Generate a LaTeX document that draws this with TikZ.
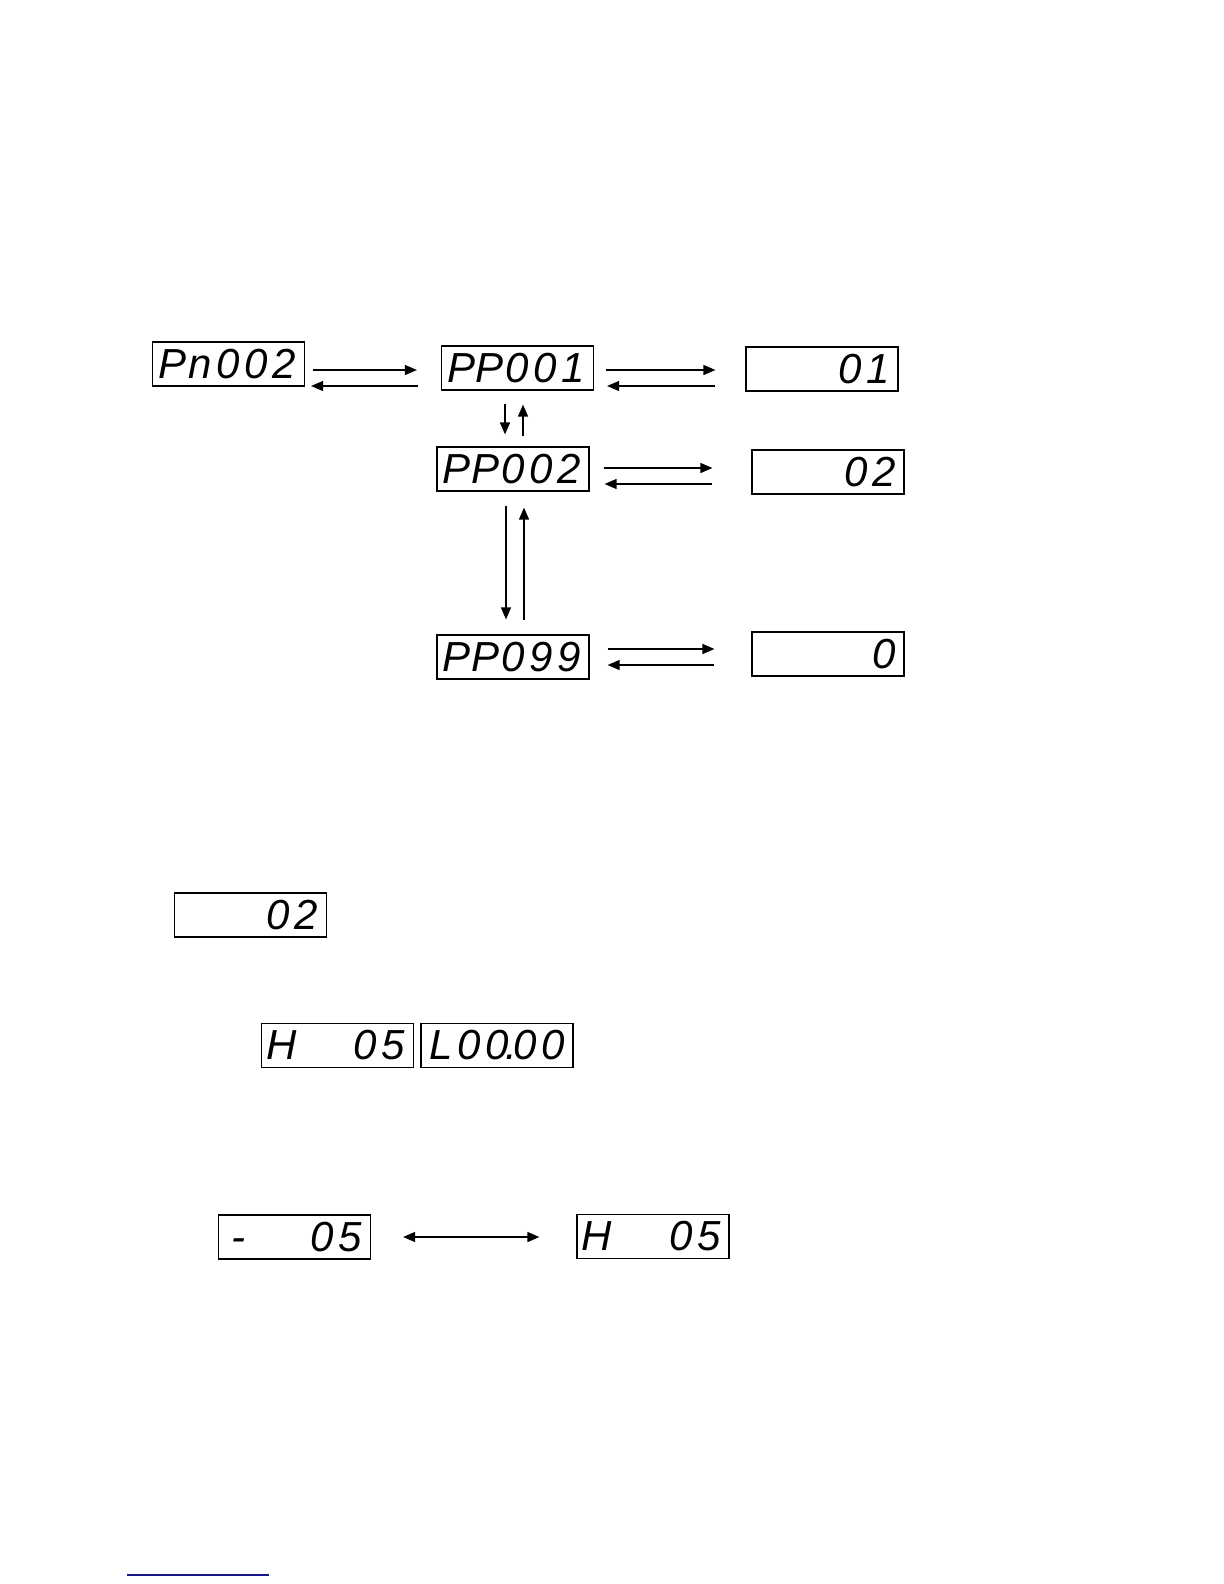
\documentclass[tikz,border=0pt]{standalone}
\usepackage{fontspec}
\usepackage{tikz}
\usetikzlibrary{arrows.meta}
\usetikzlibrary{positioning}
\newfontfamily\segfont{Liberation Sans}
\usepackage{xcolor}
\definecolor{linkblue}{RGB}{24,24,140}
% one digit cell of a display
\newcommand\sd[1]{\makebox[14pt]{#1}}
\tikzset{
    display/.style={
        draw,
        rectangle,
        line width=0.6pt,
        minimum width=76pt,
        minimum height=22pt,
        inner sep=0pt,
        font=\segfont\itshape\fontsize{21}{26}\selectfont
    },
    go/.style={
        draw,
        -{Triangle[length=6pt, width=5pt]},
        line width=0.7pt
    },
    swap/.style={
        draw,
        {Triangle[length=6pt, width=5pt]}-{Triangle[length=6pt, width=5pt]},
        line width=0.7pt
    }
}

\begin{document}
\begin{tikzpicture}[x=0.5pt, y=-0.5pt]
    \useasboundingbox (0,0) rectangle (1224,1584);
    % Displays of the parameter menu
    \node[display] (pn2) at (228.5,364) {\sd{P}\sd{n}\sd{0}\sd{0}\sd{2}};
    \node[display] (pp1) at (517.5,368) {\sd{P}\sd{P}\sd{0}\sd{0}\sd{1}};
    \node[display] (v1) at (822,369) {\sd{}\sd{}\sd{}\sd{0}\sd{1}};
    \node[display] (pp2) at (513,469) {\sd{P}\sd{P}\sd{0}\sd{0}\sd{2}};
    \node[display] (v2) at (828,472) {\sd{}\sd{}\sd{}\sd{0}\sd{2}};
    \node[display] (pp99) at (513,657) {\sd{P}\sd{P}\sd{0}\sd{9}\sd{9}};
    \node[display] (v99) at (828,654) {\sd{}\sd{}\sd{}\sd{}\sd{0}};
    
    % Edges of the parameter menu
    \draw[go] ([shift={(8,6)}]pn2.east) -- ([shift={(-24,2)}]pp1.west);
    \draw[go] ([shift={(-23,18)}]pp1.west) -- ([shift={(6,22)}]pn2.east);
    \draw[go] ([shift={(12,2)}]pp1.east) -- ([shift={(-30,1)}]v1.west);
    \draw[go] ([shift={(-30,17)}]v1.west) -- ([shift={(13,18)}]pp1.east);
    \draw[go] ([shift={(14,-1)}]pp2.east) -- ([shift={(-39,-4)}]v2.west);
    \draw[go] ([shift={(-39,12)}]v2.west) -- ([shift={(15,15)}]pp2.east);
    \draw[go] ([shift={(18,-8)}]pp99.east) -- ([shift={(-37,-5)}]v99.west);
    \draw[go] ([shift={(-37,11)}]v99.west) -- ([shift={(18,8)}]pp99.east);
    \draw[go] ([shift={(-12.5,13)}]pp1.south) -- ([shift={(-8,-12)}]pp2.north);
    \draw[go] ([shift={(10,-10)}]pp2.north) -- ([shift={(5.5,14)}]pp1.south);
    \draw[go] ([shift={(-7,14)}]pp2.south) -- ([shift={(-7,-15)}]pp99.north);
    \draw[go] ([shift={(11,-14)}]pp99.north) -- ([shift={(11,16)}]pp2.south);
    
    % Single displays
    \node[display] (val) at (250.5,915) {\sd{}\sd{}\sd{}\sd{0}\sd{2}};
    \node[display] (hi) at (337.5,1045.5) {\sd{H}\sd{}\sd{}\sd{0}\sd{5}};
    \node[display] (lo) at (497,1045.5) {\sd{L}\sd{0}\sd{0}\makebox[0pt]{.}\sd{0}\sd{0}};
    \node[display] (neg) at (294.5,1237) {\sd{-}\sd{}\sd{}\sd{0}\sd{5}};
    \node[display] (hpos) at (653,1236.5) {\sd{H}\sd{}\sd{}\sd{0}\sd{5}};
    \draw[swap] ([shift={(32,0)}]neg.east) -- ([shift={(-37,0.5)}]hpos.west);
    
    % Rule at the foot
    \draw[linkblue, line width=1pt] (127,1575) -- (269,1575);
\end{tikzpicture}
\end{document}
